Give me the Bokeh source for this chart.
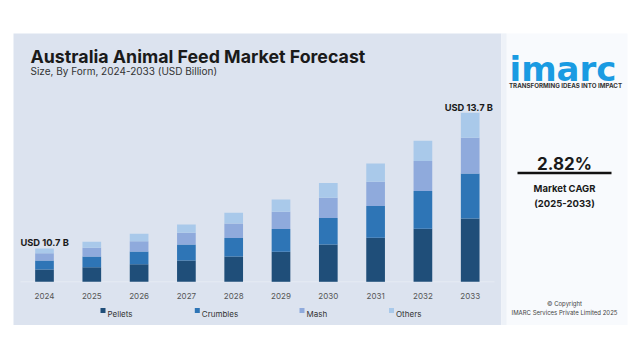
from bokeh.plotting import figure
from bokeh.models import Range1d
from bokeh.core.properties import value
from bokeh.embed import file_html
from bokeh.resources import INLINE

# ---------------- data ----------------
years = [2024, 2025, 2026, 2027, 2028, 2029, 2030, 2031, 2032, 2033]
year_labels = ["2024", "2025", "2026", "2027", "2028", "2029", "2030", "2031", "2032", "2033"]
series = ["Pellets", "Crumbles", "Mash", "Others"]
pellets = [12.3, 14.6, 17.6, 21.3, 25.3, 30.0, 37.4, 44.0, 53.0, 63.4]
crumbles = [9.0, 10.7, 12.7, 16.0, 18.4, 22.7, 26.3, 31.7, 37.7, 45.0]
mash = [7.3, 8.7, 10.3, 11.7, 14.6, 17.3, 20.3, 24.3, 30.0, 35.6]
others = [4.7, 6.0, 7.4, 8.3, 10.7, 12.3, 14.7, 18.4, 20.3, 25.0]
first_label = "USD 10.7 B"
last_label = "USD 13.7 B"
cagr = "2.82%"

colors = ["#1f4e79", "#2e75b6", "#8faadc", "#a9c9ea"]

# ---------------- layout helpers (page pixels -> data) ----------------
W, H = 632, 351
OFF = 0                  # page offset of the canvas
K = 47.3                 # px per year
X0 = 2024 - (44 - OFF) / K   # data x at left canvas edge
BASE = 281.3             # page y of bar baseline


def gx(px):
    return X0 + (px - OFF) / K


def gy(py):
    return BASE - py


p = figure(width=W, height=H, output_backend="svg", toolbar_location=None,
           x_range=Range1d(X0, X0 + W / K), y_range=Range1d(BASE - (H + OFF), BASE - OFF),
           min_border=0, min_border_left=0, min_border_right=0,
           min_border_top=0, min_border_bottom=0)
p.axis.visible = False
p.grid.visible = False
p.outline_line_color = None
p.background_fill_color = "white"
p.border_fill_color = "white"

# panels
p.quad(left=[gx(13)], right=[gx(501)], top=[gy(33)], bottom=[gy(324.5)],
       fill_color="#dce3ef", line_color=None)
p.quad(left=[gx(501)], right=[gx(627)], top=[gy(33)], bottom=[gy(324.5)],
       fill_color="#f8fafd", line_color=None)
p.quad(left=[gx(501)], right=[gx(506)], top=[gy(33)], bottom=[gy(324.5)],
       fill_color="#eef2f8", line_color=None)

# baseline
p.segment(x0=[gx(20)], x1=[gx(494)], y0=[0], y1=[0], line_color="#e6ebf4", line_width=1)

# bars
data = dict(x=years, Pellets=pellets, Crumbles=crumbles, Mash=mash, Others=others)
p.vbar_stack(series, x="x", width=0.395, color=colors, source=data, line_width=0)

tot_first = pellets[0] + crumbles[0] + mash[0] + others[0]
tot_last = pellets[-1] + crumbles[-1] + mash[-1] + others[-1]

# year labels
p.text(x=years, y=[gy(295)] * len(years), text=year_labels, text_align="center",
       text_baseline="alphabetic", text_font=value("Inter"), text_font_size="8px",
       text_color="#555555")

# value labels
p.text(x=[years[0] - 0.51], y=[tot_first + 6.5], text=[first_label], text_align="left",
       text_baseline="alphabetic", text_font=value("Inter"), text_font_style="bold",
       text_font_size="9.3px", text_color="#1a1a1a")
p.text(x=[years[-1] + 0.48], y=[tot_last + 5.5], text=[last_label], text_align="right",
       text_baseline="alphabetic", text_font=value("Inter"), text_font_style="bold",
       text_font_size="9.3px", text_color="#1a1a1a")

# legend
leg_x = [100, 194.3, 299, 388.5]
p.quad(left=[gx(v) for v in leg_x], right=[gx(v + 5) for v in leg_x],
       top=[gy(307.5)] * 4, bottom=[gy(312.5)] * 4, fill_color=colors, line_color=None)
p.text(x=[gx(v + 7) for v in leg_x], y=[gy(313)] * 4, text=series, text_align="left",
       text_baseline="alphabetic", text_font=value("Inter"), text_font_size="8px",
       text_color="#333333")

# title
p.text(x=[gx(30)], y=[gy(56)], text=["Australia Animal Feed Market Forecast"],
       text_align="left", text_baseline="alphabetic", text_font=value("Inter"),
       text_font_style="bold", text_font_size="17.8px", text_color="#1a1a1a")
p.text(x=[gx(30)], y=[gy(70)], text=["Size, By Form, 2024-2033 (USD Billion)"],
       text_align="left", text_baseline="alphabetic", text_font=value("Inter"),
       text_font_size="10px", text_color="#333333")

# logo
p.text(x=[gx(562.5)], y=[gy(68)], text=["imarc"], text_align="center",
       text_baseline="alphabetic", text_font=value("DejaVu Sans"), text_font_style="bold",
       text_font_size="34px", text_color="#1a9be2")
p.text(x=[gx(565)], y=[gy(84.5)], text=["TRANSFORMING IDEAS INTO IMPACT"], text_align="center",
       text_baseline="alphabetic", text_font=value("Inter"), text_font_style="bold",
       text_font_size="6.2px", text_color="#333333")

# CAGR block
p.text(x=[gx(564)], y=[gy(163.5)], text=[cagr], text_align="center",
       text_baseline="alphabetic", text_font=value("Inter"), text_font_style="bold",
       text_font_size="17px", text_color="#1a1a1a")
p.segment(x0=[gx(517)], x1=[gx(611)], y0=[gy(172.5)], y1=[gy(172.5)],
          line_color="#111111", line_width=2.5)
p.text(x=[gx(564)], y=[gy(187.5)], text=["Market CAGR"], text_align="center",
       text_baseline="alphabetic", text_font=value("Inter"), text_font_style="bold",
       text_font_size="9.5px", text_color="#1a1a1a")
p.text(x=[gx(564)], y=[gy(202.5)], text=["(2025-2033)"], text_align="center",
       text_baseline="alphabetic", text_font=value("Inter"), text_font_style="bold",
       text_font_size="9.5px", text_color="#1a1a1a")

# copyright
p.text(x=[gx(564)], y=[gy(303)], text=["© Copyright"], text_align="center",
       text_baseline="alphabetic", text_font=value("Inter"), text_font_size="6px",
       text_color="#444444")
p.text(x=[gx(564)], y=[gy(312)], text=["IMARC Services Private Limited 2025"], text_align="center",
       text_baseline="alphabetic", text_font=value("Inter"), text_font_size="6px",
       text_color="#444444")

open("out.html", "w").write(file_html(p, INLINE))
